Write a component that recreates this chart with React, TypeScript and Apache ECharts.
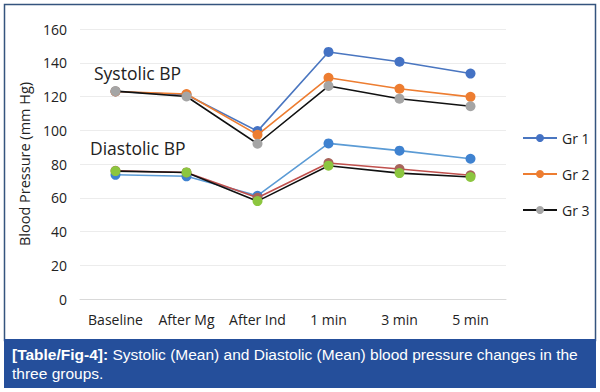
import React, { useEffect, useRef } from "react";
import * as echarts from "echarts";

const categories = ["Baseline", "After Mg", "After Ind", "1 min", "3 min", "5 min"];
const sysGr1 = [123, 121, 99.5, 146.4, 140.6, 133.6];
const sysGr2 = [123, 121.5, 97.3, 131.1, 124.6, 119.8];
const sysGr3 = [123.2, 120, 92, 126.2, 118.7, 114.2];
const diaGr1 = [73.6, 72.7, 61.2, 92.2, 87.9, 83.1];
const diaGr2 = [76, 75, 60, 80.6, 77, 73.3];
const diaGr3 = [75.8, 75, 58, 79, 74.6, 72.3];
const yTicks = { min: 0, max: 160, interval: 20 };

const FONT = "'Open Sans', 'Noto Sans', sans-serif";
const CAP_FONT = "'Liberation Sans', Arial, sans-serif";

export default function App() {
  const ref = useRef<HTMLDivElement>(null);
  useEffect(() => {
    if (!ref.current) return;
    const chart = echarts.init(ref.current, undefined, { renderer: "svg" });
    const mk = (name: string, data: number[], line: string, marker: string, z: number) => ({
      name,
      type: "line",
      data,
      symbol: "circle",
      symbolSize: 10,
      z,
      lineStyle: { color: line, width: 1.6 },
      itemStyle: { color: marker },
    });
    chart.setOption({
      animation: false,
      backgroundColor: "#ffffff",
      textStyle: { fontFamily: FONT },
      grid: { left: 80, right: 94, top: 29, bottom: 93 },
      xAxis: {
        type: "category",
        data: categories,
        boundaryGap: true,
        axisLine: { show: true, lineStyle: { color: "#d9d9d9", width: 1 } },
        axisTick: { show: false },
        axisLabel: { color: "#222", fontSize: 14, margin: 13, fontFamily: FONT, interval: 0, hideOverlap: false },
      },
      yAxis: {
        type: "value",
        min: yTicks.min,
        max: yTicks.max,
        interval: yTicks.interval,
        name: "Blood Pressure (mm Hg)",
        nameLocation: "middle",
        nameGap: 38,
        nameTextStyle: { color: "#222", fontSize: 14.5, fontFamily: FONT },
        axisLine: { show: false },
        axisTick: { show: false },
        axisLabel: { color: "#222", fontSize: 14, margin: 13, fontFamily: FONT },
        splitLine: { lineStyle: { color: "#ececec", width: 1 } },
      },
      legend: {
        data: ["Gr 1", "Gr 2", "Gr 3"],
        orient: "vertical",
        left: 522,
        top: 131,
        padding: 0,
        itemWidth: 34,
        itemHeight: 10,
        itemGap: 22,
        textStyle: { color: "#222", fontSize: 14, fontFamily: FONT },
      },
      series: [
        mk("Gr 1", sysGr1, "#4a76c0", "#4472c4", 2),
        mk("Gr 2", sysGr2, "#ed7d31", "#ed7d31", 3),
        mk("Gr 3", sysGr3, "#111111", "#a5a5a5", 4),
        mk("Gr 1 DBP", diaGr1, "#5b9bd5", "#3f82d0", 2),
        mk("Gr 2 DBP", diaGr2, "#c0504d", "#a8645a", 3),
        mk("Gr 3 DBP", diaGr3, "#111111", "#8cc63f", 4),
      ],
      graphic: [
        {
          type: "rect",
          shape: { x: 4.5, y: 4.5, width: 591, height: 336 },
          style: { fill: "none", stroke: "#34547e", lineWidth: 1.5 },
          z: -1,
          silent: true,
        },
        {
          type: "rect",
          shape: { x: 4, y: 339, width: 592, height: 49 },
          style: { fill: "#254f9b" },
          silent: true,
        },
        {
          type: "text",
          left: 12,
          top: 345,
          style: {
            text: "{b|[Table/Fig-4]:} Systolic (Mean) and Diastolic (Mean) blood pressure changes in the\nthree groups.",
            fill: "#ffffff",
            font: "15.5px " + CAP_FONT,
            lineHeight: 19,
            rich: {
              b: { fontWeight: "bold", fill: "#ffffff", fontSize: 15.5, fontFamily: CAP_FONT, lineHeight: 19 },
            },
          },
          silent: true,
        },
        {
          type: "text",
          left: 94,
          top: 64,
          style: { text: "Systolic BP", fill: "#222", font: "17.5px " + FONT },
          silent: true,
        },
        {
          type: "text",
          left: 90,
          top: 139,
          style: { text: "Diastolic BP", fill: "#222", font: "17.5px " + FONT },
          silent: true,
        },
      ],
    });
    return () => chart.dispose();
  }, []);
  return (
    <div
      ref={ref}
      style={{ position: "absolute", left: 0, top: 0, width: 600, height: 392 }}
    />
  );
}
